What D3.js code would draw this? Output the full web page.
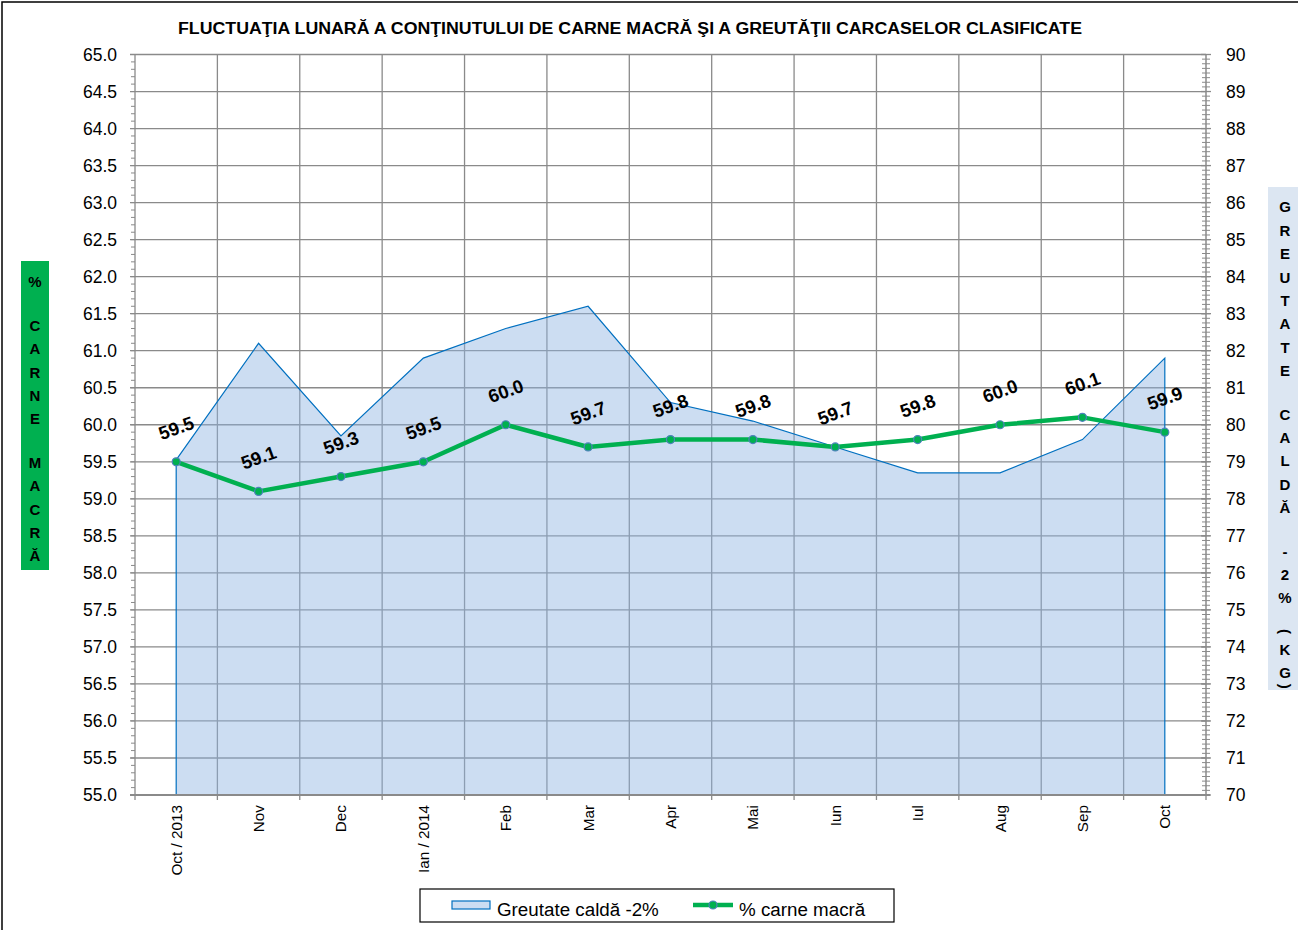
<!DOCTYPE html>
<html>
<head>
<meta charset="utf-8">
<script src="https://cdn.jsdelivr.net/npm/d3@7"></script>
<style>
  html, body { margin: 0; padding: 0; background: #fff; }
  svg { display: block; font-family: Arial, "Liberation Sans", sans-serif; }
</style>
</head>
<body>
<svg id="chart" width="1298" height="930"></svg>
<script>
// ── Data ─────────────────────────────────────────────────────────────────────
const MONTHS = ["Oct / 2013", "Nov", "Dec", "Ian / 2014", "Feb", "Mar", "Apr", "Mai", "Iun", "Iul", "Aug", "Sep", "Oct"];
const CARNE = [59.5, 59.1, 59.3, 59.5, 60.0, 59.7, 59.8, 59.8, 59.7, 59.8, 60.0, 60.1, 59.9];
const GREUTATE = [79.05, 82.2, 79.7, 81.8, 82.6, 83.2, 80.6, 80.1, 79.4, 78.7, 78.7, 79.6, 81.8];

const TITLE = "FLUCTUAŢIA LUNARĂ  A CONŢINUTULUI DE CARNE MACRĂ ŞI A GREUTĂŢII CARCASELOR CLASIFICATE";
const LEFT_TITLE = ["%", "", "C", "A", "R", "N", "E", "", "M", "A", "C", "R", "Ă"];
const RIGHT_TITLE = ["G", "R", "E", "U", "T", "A", "T", "E", "", "C", "A", "L", "D", "Ă", "", "-", "2", "%", "", "(", "K", "G", ")"];
const LEGEND = ["Greutate caldă -2%", "% carne macră"];

const GREEN = "#00B050";
const BLUE = "#0070C0";
const GRID = "#8a8a8a";

// ── Layout ───────────────────────────────────────────────────────────────────
const svg = d3.select("#chart");
const X0 = 135, X1 = 1206, Y0 = 54.5, Y1 = 795;

const x = d3.scaleBand().domain(MONTHS).range([X0, X1]);
const cx = d => x(d) + x.bandwidth() / 2;
const yL = d3.scaleLinear().domain([55, 65]).range([Y1, Y0]);
const yR = d3.scaleLinear().domain([70, 90]).range([Y1, Y0]);

// outer frame
svg.append("rect").attr("x", 2).attr("y", 2).attr("width", 1400).attr("height", 1000)
  .attr("fill", "none").attr("stroke", "#000").attr("stroke-width", 1.5);

// title
svg.append("text").attr("x", 630).attr("y", 34).attr("text-anchor", "middle")
  .attr("font-size", 16).attr("font-weight", "bold")
  .attr("textLength", 904).attr("lengthAdjust", "spacingAndGlyphs").text(TITLE);

// ── Grid ─────────────────────────────────────────────────────────────────────
const gGrid = svg.append("g");
const majorL = d3.range(55, 65.01, 0.5);
gGrid.selectAll(".hg").data(majorL).join("line")
  .attr("x1", X0 - 5).attr("x2", X1).attr("y1", d => yL(d)).attr("y2", d => yL(d))
  .attr("stroke", GRID).attr("stroke-width", 1.3);
gGrid.selectAll(".vg").data(MONTHS).join("line")
  .attr("x1", d => x(d)).attr("x2", d => x(d)).attr("y1", Y0).attr("y2", Y1)
  .attr("stroke", GRID).attr("stroke-width", 1.3);

// left minor ticks
const minorL = d3.range(55, 65.001, 0.1);
svg.append("g").selectAll("line").data(minorL).join("line")
  .attr("x1", X0 - 4).attr("x2", X0).attr("y1", d => yL(d)).attr("y2", d => yL(d))
  .attr("stroke", GRID).attr("stroke-width", 1);

// ── Area (right axis) ────────────────────────────────────────────────────────
const pts = MONTHS.map((m, i) => ({ m, v: GREUTATE[i] }));
const area = d3.area().x(d => cx(d.m)).y0(yR(70)).y1(d => yR(d.v));
svg.append("path").datum(pts).attr("d", area)
  .attr("fill", "#8DB3E2").attr("fill-opacity", 0.45)
  .attr("stroke", BLUE).attr("stroke-width", 1.2);

// ── Axes ─────────────────────────────────────────────────────────────────────
// left labels
svg.append("g").selectAll("text").data(majorL).join("text")
  .attr("x", 117).attr("y", d => yL(d)).attr("dy", "0.36em")
  .attr("text-anchor", "end").attr("font-size", 17.5).text(d3.format(".1f"));

// right axis line with cross ticks
const gR = svg.append("g");
gR.append("line").attr("x1", X1).attr("x2", X1).attr("y1", Y0).attr("y2", Y1)
  .attr("stroke", GRID).attr("stroke-width", 1.5);
gR.selectAll(".mn").data(d3.range(70, 90.001, 0.125)).join("line")
  .attr("x1", X1 - 4).attr("x2", X1 + 4).attr("y1", d => yR(d)).attr("y2", d => yR(d))
  .attr("stroke", GRID).attr("stroke-width", 1);
gR.selectAll(".mj").data(d3.range(70, 91, 1)).join("line")
  .attr("x1", X1 - 5).attr("x2", X1 + 5).attr("y1", d => yR(d)).attr("y2", d => yR(d))
  .attr("stroke", GRID).attr("stroke-width", 1.3);
gR.selectAll("text").data(d3.range(70, 91, 1)).join("text")
  .attr("x", 1226).attr("y", d => yR(d)).attr("dy", "0.36em")
  .attr("font-size", 17.5).text(d => d);

// bottom axis
const gB = svg.append("g");
gB.append("line").attr("x1", X0 - 5).attr("x2", X1 + 4).attr("y1", Y1).attr("y2", Y1)
  .attr("stroke", GRID).attr("stroke-width", 2.2);
gB.selectAll(".tk").data(MONTHS.map(m => x(m)).concat([X1])).join("line")
  .attr("x1", d => d).attr("x2", d => d).attr("y1", Y1).attr("y2", Y1 + 5)
  .attr("stroke", GRID).attr("stroke-width", 1.3);
gB.selectAll("text").data(MONTHS).join("text")
  .attr("transform", d => `translate(${cx(d)},${Y1 + 10}) rotate(-90)`)
  .attr("text-anchor", "end").attr("dy", "0.36em")
  .attr("font-size", 15.3).text(d => d);

// ── Line (left axis) ─────────────────────────────────────────────────────────
const lp = MONTHS.map((m, i) => ({ m, v: CARNE[i] }));
svg.append("path").datum(lp)
  .attr("d", d3.line().x(d => cx(d.m)).y(d => yL(d.v)))
  .attr("fill", "none").attr("stroke", GREEN).attr("stroke-width", 4.5)
  .attr("stroke-linejoin", "round");
svg.append("g").selectAll("circle").data(lp).join("circle")
  .attr("cx", d => cx(d.m)).attr("cy", d => yL(d.v)).attr("r", 4)
  .attr("fill", GREEN).attr("stroke", "#4F81BD").attr("stroke-width", 1.2);

// data labels
svg.append("g").selectAll("text").data(lp).join("text")
  .attr("transform", d => `translate(${cx(d.m)},${yL(d.v) - 34}) rotate(-20)`)
  .attr("text-anchor", "middle").attr("dy", "0.36em")
  .attr("font-size", 18.5).attr("font-weight", "bold").text(d => d3.format(".1f")(d.v));

// ── Axis titles ──────────────────────────────────────────────────────────────
function stackedTitle(letters, cxPos, yStart) {
  let y = yStart;
  const g = svg.append("g");
  letters.forEach(ch => {
    if (ch === "") { y += 20; return; }
    if (ch === "(" || ch === ")") {
      // parentheses turned sideways, tucked close to the neighbouring letters
      g.append("text").attr("transform", `translate(${cxPos},${y - 10}) rotate(90)`)
        .attr("text-anchor", "middle").attr("dy", "0.36em")
        .attr("font-size", 15).attr("font-weight", "bold").text(ch);
      y += 8;
      return;
    }
    g.append("text").attr("x", cxPos).attr("y", y).attr("dy", "0.36em")
      .attr("text-anchor", "middle").attr("font-size", 15).attr("font-weight", "bold").text(ch);
    y += 23.4;
  });
}

svg.append("rect").attr("x", 21).attr("y", 261).attr("width", 28).attr("height", 309).attr("fill", GREEN);
stackedTitle(LEFT_TITLE, 35, 282);

svg.append("rect").attr("x", 1268).attr("y", 187).attr("width", 32).attr("height", 503).attr("fill", "#DCE6F2");
stackedTitle(RIGHT_TITLE, 1285, 207);

// ── Legend ───────────────────────────────────────────────────────────────────
const lg = svg.append("g");
lg.append("rect").attr("x", 420).attr("y", 889).attr("width", 474).attr("height", 33)
  .attr("fill", "#fff").attr("stroke", "#000").attr("stroke-width", 1.2);
lg.append("rect").attr("x", 452).attr("y", 901).attr("width", 38).attr("height", 8)
  .attr("fill", "#8DB3E2").attr("fill-opacity", 0.45).attr("stroke", BLUE).attr("stroke-width", 1.2);
lg.append("text").attr("x", 497).attr("y", 916).attr("font-size", 18.8).text(LEGEND[0]);
lg.append("line").attr("x1", 693).attr("x2", 733).attr("y1", 905).attr("y2", 905)
  .attr("stroke", GREEN).attr("stroke-width", 4.5);
lg.append("circle").attr("cx", 713).attr("cy", 905).attr("r", 4)
  .attr("fill", GREEN).attr("stroke", "#4F81BD").attr("stroke-width", 1.2);
lg.append("text").attr("x", 739).attr("y", 916).attr("font-size", 18.8).text(LEGEND[1]);
</script>
</body>
</html>
